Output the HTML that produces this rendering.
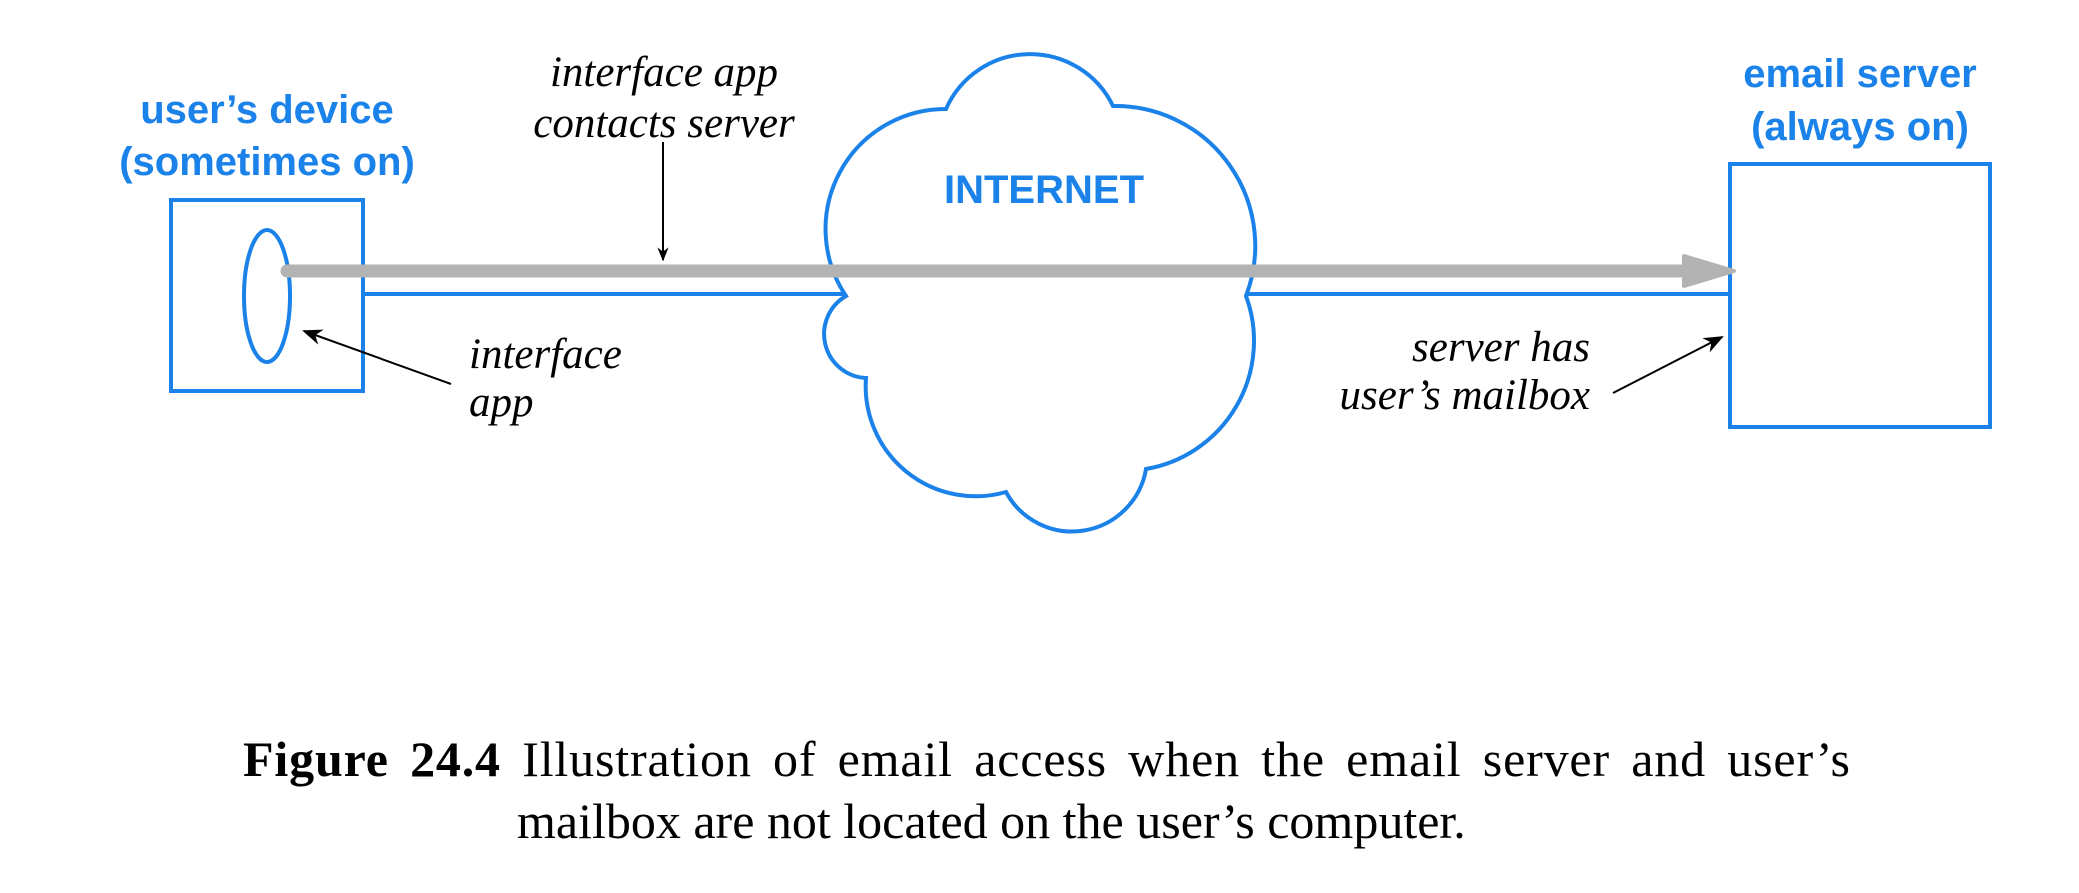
<!DOCTYPE html>
<html><head><meta charset="utf-8"><style>
html,body{margin:0;padding:0;background:#fff;}
svg{display:block;}
.b{font-family:"Liberation Sans",sans-serif;font-weight:bold;fill:#1a82e8;font-size:40px;text-anchor:middle;}
.i{font-family:"Liberation Serif",serif;font-style:italic;fill:#000;font-size:43px;}
.c{font-family:"Liberation Serif",serif;fill:#000;font-size:50px;word-spacing:8px;}
</style></head><body>
<svg width="2079" height="893" viewBox="0 0 2079 893" xmlns="http://www.w3.org/2000/svg">
<defs>
<marker id="ah" viewBox="0 0 10 10" refX="9" refY="5" markerWidth="14" markerHeight="14" markerUnits="userSpaceOnUse" orient="auto"><path d="M0,1 L10,5 L0,9 L3,5 z" fill="#000"/></marker>
<marker id="ah2" viewBox="0 0 10 10" refX="9" refY="5" markerWidth="20" markerHeight="20" markerUnits="userSpaceOnUse" orient="auto"><path d="M0,1 L10,5 L0,9 L3,5 z" fill="#000"/></marker>
</defs>
<g fill="none" stroke="#1a82e8" stroke-width="4">
<rect x="171" y="200" width="192" height="191"/>
<ellipse cx="267" cy="296" rx="23" ry="66"/>
<rect x="1730" y="164" width="260" height="263"/>
<line x1="363" y1="294" x2="846" y2="294"/>
<line x1="1246" y1="294" x2="1730" y2="294"/>
<path d="M846,296 A120,120 0 0 1 946,109 A92,92 0 0 1 1113,106 A140,140 0 0 1 1246,296 A130,130 0 0 1 1146,469 A75,75 0 0 1 1006,492 A110,110 0 0 1 866,378 A44,44 0 0 1 846,296 Z"/>
</g>
<line x1="287" y1="271" x2="1690" y2="271" stroke="#b3b3b3" stroke-width="13" stroke-linecap="round"/>
<path d="M1684,256 L1734,271 L1684,286 Z" fill="#b3b3b3" stroke="#b3b3b3" stroke-width="4" stroke-linejoin="round"/>
<text class="b" x="267" y="123">user’s device</text>
<text class="b" x="267" y="175">(sometimes on)</text>
<text class="b" x="1860" y="87">email server</text>
<text class="b" x="1860" y="140">(always on)</text>
<text class="b" x="1044" y="203">INTERNET</text>
<text class="i" x="664" y="86" text-anchor="middle">interface app</text>
<text class="i" x="664" y="137" text-anchor="middle">contacts server</text>
<line x1="663" y1="142" x2="663" y2="260" stroke="#000" stroke-width="2" marker-end="url(#ah)"/>
<text class="i" x="469" y="368">interface</text>
<text class="i" x="469" y="416">app</text>
<line x1="451" y1="384" x2="304" y2="331" stroke="#000" stroke-width="2" marker-end="url(#ah2)"/>
<text class="i" x="1590" y="361" text-anchor="end">server has</text>
<text class="i" x="1590" y="409" text-anchor="end">user’s mailbox</text>
<line x1="1613" y1="393" x2="1722" y2="337" stroke="#000" stroke-width="2" marker-end="url(#ah2)"/>
<text class="c" x="243" y="776" textLength="1607" lengthAdjust="spacing"><tspan font-weight="bold">Figure 24.4</tspan>  Illustration of email access when the email server and user’s</text>
<text class="c" x="517" y="838" style="word-spacing:0">mailbox are not located on the user’s computer.</text>
</svg>
</body></html>
